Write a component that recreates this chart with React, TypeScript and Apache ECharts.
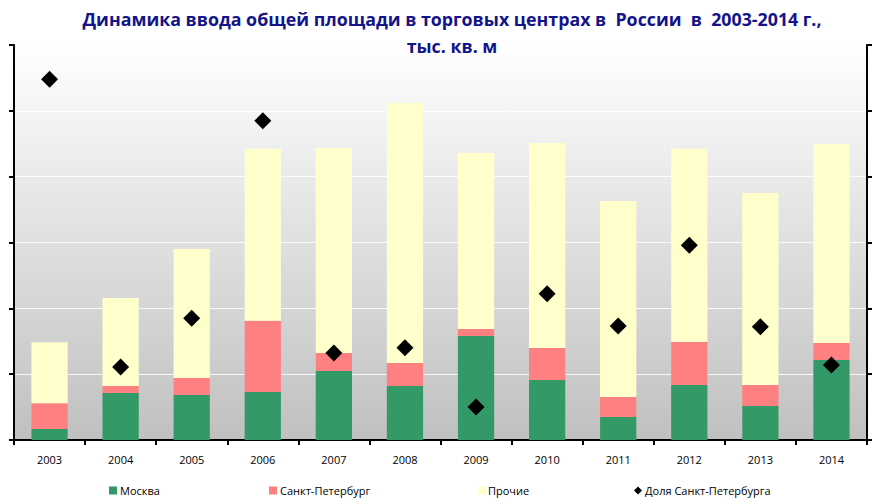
import React, { useEffect, useRef } from "react";
import * as echarts from "echarts";

const years = ["2003", "2004", "2005", "2006", "2007", "2008", "2009", "2010", "2011", "2012", "2013", "2014"];
const moscow = [50, 214, 205, 219, 314, 246, 474, 273, 105, 251, 155, 365];
const spb = [118, 32, 77, 324, 82, 105, 32, 146, 91, 196, 96, 77];
const others = [278, 401, 588, 784, 934, 1185, 802, 934, 893, 880, 875, 907];
const spbShare = [54.8, 11.1, 18.5, 48.5, 13.2, 14.0, 5.0, 22.2, 17.3, 29.6, 17.2, 11.4];

const titleText = "Динамика ввода общей площади в торговых центрах в  России  в  2003-2014 г.,\nтыс. кв. м";

export default function App() {
  const ref = useRef<HTMLDivElement>(null);
  useEffect(() => {
    document.body.style.margin = "0";
    const chart = echarts.init(ref.current!, null, { renderer: "svg" });
    const font = "'Open Sans', sans-serif";
    const legendBase = {
      bottom: 2,
      itemWidth: 8,
      itemHeight: 8,
      itemGap: 0,
      textStyle: { fontSize: 11, color: "#000", fontFamily: font, padding: [0, 0, 0, -2] },
    };
    chart.setOption({
      animation: false,
      backgroundColor: "#ffffff",
      title: {
        text: titleText,
        left: 447,
        textAlign: "center",
        top: 0,
        textStyle: { fontSize: 17.8, fontWeight: "bold", color: "#14148a", fontFamily: font, lineHeight: 27 },
      },
      legend: [
        { ...legendBase, left: 104, data: [{ name: "Москва", icon: "rect" }] },
        { ...legendBase, left: 264, data: [{ name: "Санкт-Петербург", icon: "rect" }] },
        { ...legendBase, left: 472, data: [{ name: "Прочие", icon: "rect" }] },
        { ...legendBase, left: 629, data: [{ name: "Доля Санкт-Петербурга", icon: "diamond" }] },
      ],
      grid: {
        left: 14,
        right: 6,
        top: 45,
        bottom: 63,
        show: true,
        borderWidth: 0,
        backgroundColor: new echarts.graphic.LinearGradient(0, 0, 0, 1, [
          { offset: 0, color: "#ffffff" },
          { offset: 1, color: "#c0c0c0" },
        ]),
      },
      xAxis: {
        type: "category",
        data: years,
        axisLine: { lineStyle: { color: "#000", width: 2 } },
        axisTick: { show: true, length: 5, lineStyle: { color: "#000", width: 2 } },
        axisLabel: { color: "#000", fontSize: 11, fontFamily: font, margin: 14 },
      },
      yAxis: [
        {
          type: "value",
          min: 0,
          max: 1800,
          interval: 300,
          axisLine: { show: true, lineStyle: { color: "#000", width: 2 } },
          axisTick: { show: true, length: 5, lineStyle: { color: "#000", width: 2 } },
          axisLabel: { show: false },
          splitLine: { show: true, lineStyle: { color: "rgba(255,255,255,0.85)", width: 1 } },
        },
        {
          type: "value",
          min: 0,
          max: 60,
          interval: 10,
          position: "right",
          axisLine: { show: true, lineStyle: { color: "#000", width: 2 } },
          axisTick: { show: true, length: 5, lineStyle: { color: "#000", width: 2 } },
          axisLabel: { show: false },
          splitLine: { show: false },
        },
      ],
      series: [
        { name: "Москва", type: "bar", stack: "a", data: moscow, barWidth: "51%", itemStyle: { color: "#339966" } },
        { name: "Санкт-Петербург", type: "bar", stack: "a", data: spb, itemStyle: { color: "#ff8080" } },
        { name: "Прочие", type: "bar", stack: "a", data: others, itemStyle: { color: "#ffffcc" } },
        {
          name: "Доля Санкт-Петербурга",
          type: "scatter",
          yAxisIndex: 1,
          data: spbShare,
          symbol: "diamond",
          symbolSize: 17,
          itemStyle: { color: "#000", opacity: 1 },
        },
      ],
    });
    return () => chart.dispose();
  }, []);
  return <div ref={ref} style={{ width: 873, height: 503 }} />;
}
